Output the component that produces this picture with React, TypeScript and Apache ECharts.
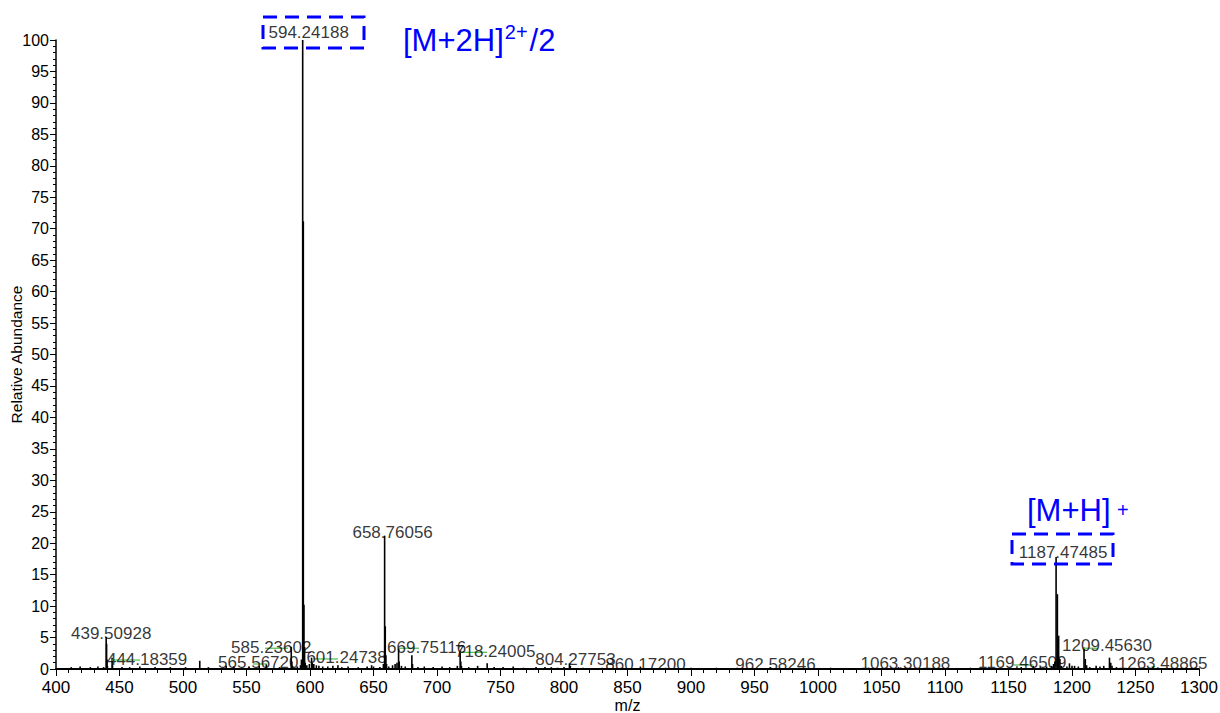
import React, { useEffect, useRef } from 'react';
import * as echarts from 'echarts';

// ---------- data ----------
const xTicks = { min: 400, max: 1300, interval: 50 };
const yTicks = { min: 0, max: 100, interval: 5 };

const peakMz = [
  412, 419, 427, 433, 437.5,
  439.51, 439.84, 440.18, 440.5,
  444.18, 444.5,
  452, 458, 466, 478, 490, 502, 513.2, 520, 534, 540, 552, 560, 565.57, 576,
  585.24, 585.74, 586.24, 590, 592.5, 593.24,
  594.24, 594.74, 595.24, 595.74, 596.24,
  597.5, 599.5, 601.25, 601.75, 603, 605, 607, 610, 614, 618, 622, 625, 630, 638, 645, 648.5, 650, 655, 657.8,
  658.76, 659.26, 659.76, 660.26,
  662, 665, 667, 668.5,
  669.75, 670.25, 672, 675,
  680.2, 680.7, 685, 690, 697, 704, 710, 716,
  718.24, 718.74, 719.24, 725, 732, 739.5, 745, 752, 760, 768, 778, 785, 790, 795, 800,
  804.28, 805, 815, 830, 845, 860.17, 880, 900, 920, 940, 962.58, 985, 1010, 1040, 1063.3, 1090, 1120, 1140, 1160,
  1169.47, 1175, 1180, 1184, 1185.5, 1186.5,
  1187.47, 1188.48, 1189.48, 1190.48, 1191.5,
  1196, 1198, 1200, 1202, 1205,
  1209.46, 1210.46, 1211.5, 1214, 1219, 1222, 1225, 1229.5, 1230.5, 1231.5, 1235, 1245, 1255, 1263.49, 1275, 1290,
];
const peakAbundance = [
  0.3, 0.4, 0.3, 0.4, 0.3,
  5.1, 4.0, 1.5, 0.5,
  1.8, 0.6,
  0.3, 0.3, 0.4, 0.3, 0.3, 0.3, 1.3, 0.3, 0.5, 0.4, 0.3, 0.5, 0.8, 0.3,
  3.5, 1.2, 0.5, 0.4, 0.6, 1.5,
  100, 71.2, 10.2, 3.5, 1.0,
  0.6, 0.8, 1.8, 1.0, 0.8, 0.6, 0.5, 0.4, 0.4, 0.5, 0.6, 0.3, 0.4, 0.3, 0.4, 0.6, 0.4, 0.3, 0.8,
  21.2, 6.8, 2.2, 0.8,
  0.4, 0.6, 0.8, 1.0,
  3.2, 1.2, 0.5, 0.4,
  2.2, 0.8, 0.3, 0.4, 0.3, 0.4, 0.3, 0.5,
  2.8, 1.2, 0.5, 0.3, 0.5, 0.9, 0.3, 0.3, 0.4, 0.2, 0.3, 0.3, 0.3, 0.2, 0.3,
  0.9, 0.5, 0.2, 0.2, 0.2, 0.4, 0.2, 0.2, 0.2, 0.2, 0.3, 0.2, 0.2, 0.2, 0.3, 0.2, 0.2, 0.2, 0.3,
  0.5, 0.3, 0.4, 0.5, 0.8, 1.2,
  17.8, 11.9, 5.3, 1.6, 0.5,
  0.4, 0.9, 0.5, 0.5, 0.4,
  3.4, 1.6, 0.6, 0.3, 0.5, 0.4, 0.5, 1.8, 1.0, 0.5, 0.3, 0.2, 0.2, 0.3, 0.2, 0.2,
];

const labelTexts = [
  '439.50928', '444.18359', '565.56720', '585.23602', '594.24188', '601.24738',
  '658.76056', '669.75116', '718.24005', '804.27753', '860.17200', '962.58246',
  '1063.30188', '1169.46509', '1187.47485', '1209.45630', '1263.48865',
];
const labelMz = [
  439.51, 444.18, 565.57, 585.24, 594.24, 601.25,
  658.76, 669.75, 718.24, 804.28, 860.17, 962.58,
  1063.3, 1169.47, 1187.47, 1209.46, 1263.49,
];
const labelAbundance = [
  5.1, 1.8, 0.8, 3.5, 100, 1.8,
  21.2, 3.2, 2.8, 0.9, 0.4, 0.3,
  0.3, 0.5, 17.8, 3.4, 0.3,
];

// green connector segments next to labels
const connStart = [443.8, 555, 564.6, 602.4, 669.3, 718, 1153.5, 1208.7, 1262.7];
const connEnd = [466.1, 566, 582.7, 622, 685.8, 739.4, 1169.3, 1220.5, 1265.4];
const connLevel = [1.43, 0.8, 3.3, 1.6, 3.3, 2.65, 0.64, 3.3, 0.37];

// ---------- layout (label nudges, px) ----------
const labelNudge: Record<string, [number, number]> = {
  '439.50928': [5, 5],
  '444.18359': [35, 10],
  '565.56720': [-8, 7],
  '585.23602': [-20, 9],
  '594.24188': [6, 1],
  '601.24738': [35, 8],
  '658.76056': [8, 5],
  '669.75116': [28, 7],
  '718.24005': [35, 9],
  '804.27753': [6, 5],
  '860.17200': [5, 6.5],
  '962.58246': [5, 6],
  '1063.30188': [7, 4.6],
  '1169.46509': [-11, 5],
  '1187.47485': [7, 4],
  '1209.45630': [23, 6.4],
  '1263.48865': [10, 5],
};

const FONT = '"Liberation Sans", Arial, Helvetica, sans-serif';
const BLUE = '#0000ff';

export default function App() {
  const ref = useRef<HTMLDivElement>(null);

  useEffect(() => {
    if (!ref.current) return;
    const chart = echarts.init(ref.current, undefined, { renderer: 'svg' });

    const stickData = peakMz.map((mz, i) => [mz, peakAbundance[i]]);
    const labelData = labelTexts.map((t, i) => ({
      name: t,
      value: [labelMz[i], labelAbundance[i]],
      label: { offset: labelNudge[t] || [0, 0] },
    }));
    const connData = connStart.map((s, i) => [s, connEnd[i], connLevel[i]]);

    const option: any = {
      animation: false,
      backgroundColor: '#ffffff',
      grid: { left: 56, right: 21, top: 40, bottom: 44, containLabel: false, outerBoundsMode: 'none' },
      xAxis: {
        type: 'value',
        min: xTicks.min,
        max: xTicks.max,
        interval: xTicks.interval,
        name: 'm/z',
        nameLocation: 'middle',
        nameGap: 28,
        nameMoveOverlap: false,
        nameTextStyle: { fontFamily: FONT, fontSize: 16, color: '#000' },
        axisLine: { show: true, onZero: false, lineStyle: { color: '#000', width: 2 } },
        axisTick: { show: true, inside: false, length: 7, lineStyle: { color: '#000', width: 1 } },
        minorTick: { show: true, splitNumber: 5, length: 4, lineStyle: { color: '#000', width: 1 } },
        axisLabel: {
          fontFamily: FONT, fontSize: 17, color: '#000', margin: 10,
          formatter: (v: number) => String(v),
        },
        splitLine: { show: false },
      },
      yAxis: {
        type: 'value',
        min: yTicks.min,
        max: yTicks.max,
        interval: yTicks.interval,
        name: 'Relative Abundance',
        nameLocation: 'middle',
        nameRotate: 90,
        nameGap: 32,
        nameMoveOverlap: false,
        nameTextStyle: { fontFamily: FONT, fontSize: 15.5, color: '#000' },
        axisLine: { show: true, lineStyle: { color: '#000', width: 1.5 } },
        axisTick: { show: true, inside: false, length: 6, lineStyle: { color: '#000', width: 1 } },
        minorTick: { show: true, splitNumber: 5, length: 3, lineStyle: { color: '#000', width: 1 } },
        axisLabel: {
          fontFamily: FONT, fontSize: 16, color: '#000', margin: 7,
          formatter: (v: number) => String(v),
        },
        splitLine: { show: false },
      },
      series: [
        {
          type: 'custom',
          name: 'sticks',
          data: stickData,
          encode: { x: 0, y: 1 },
          clip: true,
          z: 2,
          renderItem: (params: any, api: any) => {
            const x = api.value(0);
            const y = api.value(1);
            const p0 = api.coord([x, 0]);
            const p1 = api.coord([x, y]);
            return {
              type: 'line',
              shape: { x1: p0[0], y1: p0[1], x2: p1[0], y2: p1[1] },
              style: { stroke: '#000', lineWidth: 1.6 },
            };
          },
        },
        {
          type: 'custom',
          name: 'connectors',
          data: connData,
          encode: { x: [0, 1], y: 2 },
          z: 3,
          renderItem: (params: any, api: any) => {
            const a = api.coord([api.value(0), api.value(2)]);
            const b = api.coord([api.value(1), api.value(2)]);
            return {
              type: 'line',
              shape: { x1: a[0], y1: a[1], x2: b[0], y2: b[1] },
              style: { stroke: '#5cbf5c', lineWidth: 1.3 },
            };
          },
        },
        {
          type: 'scatter',
          name: 'labels',
          data: labelData,
          symbolSize: 0,
          z: 4,
          silent: true,
          label: {
            show: true,
            position: 'top',
            distance: 0,
            formatter: (p: any) => p.name,
            fontFamily: FONT,
            fontSize: 17,
            color: '#000',
          },
        },
      ],
      graphic: [
        {
          type: 'rect',
          shape: { x: 263, y: 17, width: 101, height: 31 },
          style: { fill: 'none', stroke: BLUE, lineWidth: 3, lineDash: [14, 8] },
          z: 10,
        },
        {
          type: 'rect',
          shape: { x: 1012, y: 534, width: 101, height: 30 },
          style: { fill: 'none', stroke: BLUE, lineWidth: 3, lineDash: [14, 8] },
          z: 10,
        },
        {
          type: 'text',
          x: 403,
          y: 22,
          z: 10,
          style: {
            text: '{m|[M+2H]}{s|2+}{m|/2}',
            rich: {
              m: { fontFamily: FONT, fontSize: 31, fill: BLUE, lineHeight: 34, verticalAlign: 'bottom' },
              s: { fontFamily: FONT, fontSize: 20, fill: BLUE, lineHeight: 24, verticalAlign: 'top', padding: [0, 2, 0, 1] },
            },
          },
        },
        {
          type: 'text',
          x: 1027,
          y: 495,
          z: 10,
          style: {
            text: '[M+H]',
            fontFamily: FONT,
            fontSize: 31,
            fill: BLUE,
          },
        },
        {
          type: 'text',
          x: 1117,
          y: 510,
          z: 10,
          style: {
            text: '+',
            fontFamily: FONT,
            fontSize: 20,
            fill: BLUE,
            verticalAlign: 'middle',
          },
        },
      ],
    };

    chart.setOption(option);
    return () => chart.dispose();
  }, []);

  return (
    <div
      ref={ref}
      style={{ position: 'absolute', left: 0, top: 0, width: 1220, height: 713, background: '#fff' }}
    />
  );
}
